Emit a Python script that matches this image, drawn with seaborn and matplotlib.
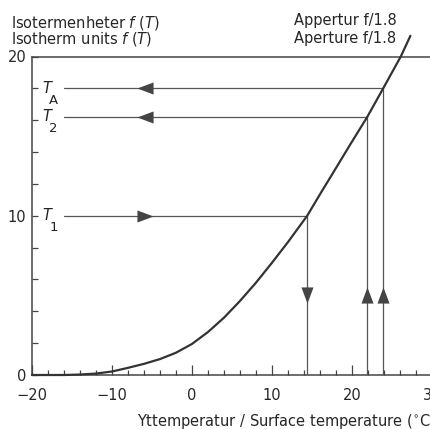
import numpy as np
import pandas as pd
import matplotlib
matplotlib.use("Agg")
import matplotlib.pyplot as plt
from matplotlib.path import Path
from matplotlib.ticker import MultipleLocator
import seaborn as sns

# ---- data ----
surface_temp = [-20, -16, -14, -12, -10, -8, -6, -4, -2, 0, 2, 4, 6, 8, 10, 12,
                14.4, 16, 17.7, 19.75, 21.9, 23.9, 26.1, 27.3]
isotherm_units = [0.0, 0.0, 0.03, 0.09, 0.22, 0.45, 0.7, 1.0, 1.4, 1.95, 2.7, 3.6,
                  4.65, 5.8, 7.05, 8.35, 10.0, 11.35, 12.75, 14.45, 16.2, 18.0, 20.0, 21.3]

level_names = ["1", "2", "A"]
level_temps = [14.4, 21.9, 23.9]
level_values = [10.0, 16.2, 18.0]

x_ticks = [-20, -10, 0, 10, 20, 30]
y_ticks = [0, 10, 20]

header_left = ["Isotermenheter $f$ ($T$)", "Isotherm units $f$ ($T$)"]
header_right = ["Appertur f/1.8", "Aperture f/1.8"]
x_label = "Yttemperatur / Surface temperature ($^{\\circ}$C)"

# ---- styling ----
sns.set_style("ticks")
plt.rcParams["font.family"] = ["DejaVu Sans"]
plt.rcParams["mathtext.fontset"] = "dejavusans"
FS = 10.5
CURVE = "#333333"
GUIDE = "#555555"
AXC = "#444444"

fig = plt.figure(figsize=(4.31, 4.29), dpi=100)
ax = fig.add_axes([32 / 431, 54 / 429, 400 / 431, 318.5 / 429])

# curve
curve_df = pd.DataFrame({"t": surface_temp, "f": isotherm_units})
sns.lineplot(data=curve_df, x="t", y="f", ax=ax, color=CURVE, lw=1.6,
             sort=False, estimator=None, clip_on=False, zorder=4)

# guide lines: horizontal from left to curve, vertical from curve to axis
x_start = -16.0
rows = []
for name, t, v in zip(level_names, level_temps, level_values):
    rows += [{"g": "h" + name, "x": x_start, "y": v}, {"g": "h" + name, "x": t, "y": v}]
    rows += [{"g": "v" + name, "x": t, "y": 0.0}, {"g": "v" + name, "x": t, "y": v}]
guide_df = pd.DataFrame(rows)
sns.lineplot(data=guide_df, x="x", y="y", units="g", estimator=None, sort=False,
             ax=ax, color=GUIDE, lw=0.9, zorder=3)

# arrow heads
def tri(direction):
    base = np.array([[1.0, 0.0], [-1.0, 0.75], [-1.0, -0.75], [1.0, 0.0]])
    ang = {"right": 0, "up": 90, "left": 180, "down": 270}[direction]
    a = np.deg2rad(ang)
    rot = np.array([[np.cos(a), -np.sin(a)], [np.sin(a), np.cos(a)]])
    v = base @ rot.T
    return Path(v, [Path.MOVETO, Path.LINETO, Path.LINETO, Path.CLOSEPOLY])

arrow_x = -5.9
arrow_y = 5.05
for name, t, v in zip(level_names, level_temps, level_values):
    if name == "1":
        hdir, vdir = "right", "down"
    else:
        hdir, vdir = "left", "up"
    sns.scatterplot(x=[arrow_x], y=[v], marker=tri(hdir), s=135, color=AXC,
                    linewidth=0, ax=ax, zorder=5)
    sns.scatterplot(x=[t], y=[arrow_y], marker=tri(vdir), s=135, color=AXC,
                    linewidth=0, ax=ax, zorder=5)

# level labels T_1, T_2, T_A
for name, v in zip(level_names, level_values):
    ax.annotate("$T$", xy=(-20, v), xytext=(7.0, -3.0), textcoords="offset points",
                ha="left", va="baseline", fontsize=FS, color="#222222")
    ax.annotate(name, xy=(-20, v), xytext=(12.5, -11.0), textcoords="offset points",
                ha="left", va="baseline", fontsize=FS - 1, color="#222222")

# axes
ax.set_xlim(-20, 30)
ax.set_ylim(0, 20)
ax.set_xticks(x_ticks)
ax.set_yticks(y_ticks)
ax.set_xticklabels([("\u2212" + str(-v)) if v < 0 else str(v) for v in x_ticks])
ax.set_yticklabels([str(v) for v in y_ticks])
ax.xaxis.set_minor_locator(MultipleLocator(2))
ax.yaxis.set_minor_locator(MultipleLocator(2))
ax.tick_params(axis="x", which="major", direction="in", length=7, width=0.9,
               color=AXC, labelsize=FS, pad=9, top=False)
ax.tick_params(axis="x", which="minor", direction="in", length=3.5, width=0.9,
               color=AXC, top=False)
ax.tick_params(axis="y", which="major", direction="in", length=4, width=0.9,
               color=AXC, labelsize=FS, pad=4, right=False)
ax.tick_params(axis="y", which="minor", direction="in", length=4, width=0.9,
               color=AXC, right=False)
ax.set_xlabel("")
ax.set_ylabel("")
for side in ["left", "bottom", "top"]:
    ax.spines[side].set_visible(True)
    ax.spines[side].set_color(AXC)
    ax.spines[side].set_linewidth(1.1)
ax.spines["right"].set_visible(False)

# header and x label
fig.text(11 / 431, 1 - 27 / 429, header_left[0], ha="left", va="baseline", fontsize=FS)
fig.text(11 / 431, 1 - 44 / 429, header_left[1], ha="left", va="baseline", fontsize=FS)
fig.text(294 / 431, 1 - 25 / 429, header_right[0], ha="left", va="baseline", fontsize=FS)
fig.text(294 / 431, 1 - 43 / 429, header_right[1], ha="left", va="baseline", fontsize=FS)
fig.text(137 / 431, 3 / 429, x_label, ha="left", va="baseline", fontsize=FS)

fig.savefig("out.png", dpi=100)
